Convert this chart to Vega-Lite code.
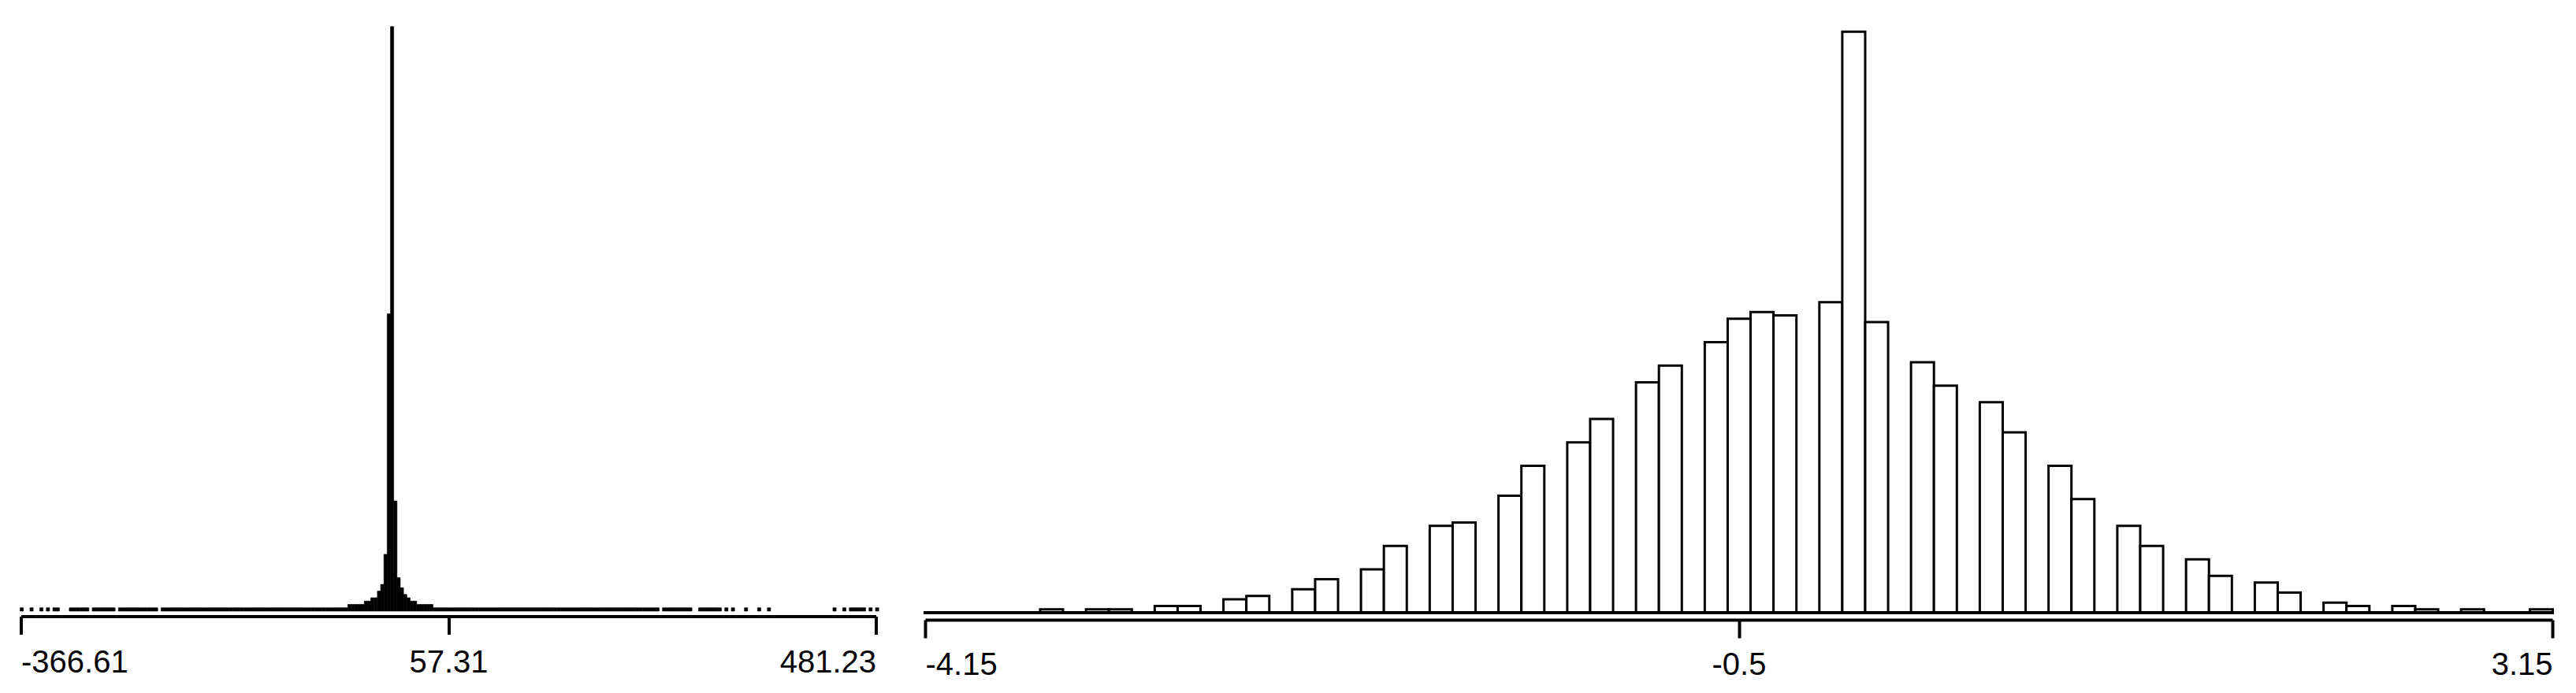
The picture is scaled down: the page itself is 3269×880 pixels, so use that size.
{
"$schema": "https://vega.github.io/schema/vega-lite/v6.json",
"background": "white",
"padding": {"left": 24.5, "top": 30, "right": 5, "bottom": 5},
"spacing": 62.5,
"bounds": "flush",
"config": {
  "view": {"stroke": null},
  "axis": {"domainColor": "black", "domainWidth": 4, "tickColor": "black", "tickWidth": 4, "tickSize": 23, "labelFont": "Liberation Sans, Arial, sans-serif", "labelFontSize": 40, "labelColor": "black", "grid": false, "title": null, "labelFlush": true, "labelOverlap": false, "labelBound": false}
},
"hconcat": [
{
  "width": 1085,
  "height": 746,
  "data": {"values": [
{"lo":-367.78,"n":1},{"lo":-358.03,"n":1},{"lo":-348.28,"n":1},{"lo":-341.78,"n":1},{"lo":-335.28,"n":1},{"lo":-332.03,"n":1},
{"lo":-319.03,"n":1},{"lo":-315.78,"n":1},{"lo":-312.53,"n":1},{"lo":-309.28,"n":1},{"lo":-306.03,"n":1},{"lo":-302.78,"n":1},
{"lo":-296.28,"n":1},{"lo":-293.03,"n":1},{"lo":-289.78,"n":1},{"lo":-286.53,"n":1},{"lo":-283.28,"n":1},{"lo":-280.03,"n":1},{"lo":-276.78,"n":1},
{"lo":-270.28,"n":1},{"lo":-267.03,"n":1},{"lo":-263.78,"n":1},{"lo":-260.53,"n":1},{"lo":-257.28,"n":1},{"lo":-254.03,"n":1},{"lo":-250.78,"n":1},{"lo":-247.53,"n":1},{"lo":-244.28,"n":1},{"lo":-241.03,"n":1},{"lo":-237.78,"n":1},{"lo":-234.53,"n":1},
{"lo":-228.03,"n":1},{"lo":-224.78,"n":1},{"lo":-221.53,"n":1},{"lo":-218.28,"n":1},{"lo":-215.03,"n":1},{"lo":-211.78,"n":1},{"lo":-208.53,"n":1},{"lo":-205.28,"n":1},{"lo":-202.03,"n":1},{"lo":-198.78,"n":1},
{"lo":-195.53,"n":1},{"lo":-192.28,"n":1},{"lo":-189.03,"n":1},{"lo":-185.78,"n":1},{"lo":-182.53,"n":1},{"lo":-179.28,"n":1},{"lo":-176.03,"n":1},{"lo":-172.78,"n":1},{"lo":-169.53,"n":1},{"lo":-166.28,"n":1},
{"lo":-163.03,"n":1},{"lo":-159.78,"n":1},{"lo":-156.53,"n":1},{"lo":-153.28,"n":1},{"lo":-150.03,"n":1},{"lo":-146.78,"n":1},{"lo":-143.53,"n":1},{"lo":-140.28,"n":1},{"lo":-137.03,"n":1},{"lo":-133.78,"n":1},
{"lo":-130.53,"n":1},{"lo":-127.28,"n":1},{"lo":-124.03,"n":1},{"lo":-120.78,"n":1},{"lo":-117.53,"n":1},{"lo":-114.28,"n":1},{"lo":-111.03,"n":1},{"lo":-107.78,"n":1},{"lo":-104.53,"n":1},{"lo":-101.28,"n":1},
{"lo":-98.03,"n":1},{"lo":-94.78,"n":1},{"lo":-91.53,"n":1},{"lo":-88.28,"n":1},{"lo":-85.03,"n":1},{"lo":-81.78,"n":1},{"lo":-78.53,"n":1},{"lo":-75.28,"n":1},{"lo":-72.03,"n":1},{"lo":-68.78,"n":1},
{"lo":-65.53,"n":1},{"lo":-62.28,"n":1},{"lo":-59.03,"n":1},{"lo":-55.78,"n":1},{"lo":-52.53,"n":1},{"lo":-49.28,"n":1},{"lo":-46.03,"n":1},
{"lo":-42.78,"n":2},{"lo":-39.53,"n":2},{"lo":-36.28,"n":2},{"lo":-33.03,"n":2},{"lo":-29.78,"n":2},
{"lo":-26.53,"n":3},{"lo":-23.28,"n":3},{"lo":-20.03,"n":4},{"lo":-16.78,"n":4},{"lo":-13.53,"n":6},{"lo":-10.28,"n":8},
{"lo":-7.03,"n":17},{"lo":-3.78,"n":89},{"lo":-0.53,"n":175},{"lo":2.72,"n":33},{"lo":5.97,"n":10},{"lo":9.22,"n":7},
{"lo":12.47,"n":5},{"lo":15.72,"n":4},{"lo":18.97,"n":3},{"lo":22.22,"n":3},
{"lo":25.47,"n":2},{"lo":28.72,"n":2},{"lo":31.97,"n":2},{"lo":35.22,"n":2},{"lo":38.47,"n":2},
{"lo":41.72,"n":1},{"lo":44.97,"n":1},{"lo":48.22,"n":1},{"lo":51.47,"n":1},{"lo":54.72,"n":1},{"lo":57.97,"n":1},{"lo":61.22,"n":1},{"lo":64.47,"n":1},{"lo":67.72,"n":1},{"lo":70.97,"n":1},
{"lo":74.22,"n":1},{"lo":77.47,"n":1},{"lo":80.72,"n":1},{"lo":83.97,"n":1},{"lo":87.22,"n":1},{"lo":90.47,"n":1},{"lo":93.72,"n":1},{"lo":96.97,"n":1},{"lo":100.22,"n":1},{"lo":103.47,"n":1},
{"lo":106.72,"n":1},{"lo":109.97,"n":1},{"lo":113.22,"n":1},{"lo":116.47,"n":1},{"lo":119.72,"n":1},{"lo":122.97,"n":1},{"lo":126.22,"n":1},{"lo":129.47,"n":1},{"lo":132.72,"n":1},{"lo":135.97,"n":1},
{"lo":139.22,"n":1},{"lo":142.47,"n":1},{"lo":145.72,"n":1},{"lo":148.97,"n":1},{"lo":152.22,"n":1},{"lo":155.47,"n":1},{"lo":158.72,"n":1},{"lo":161.97,"n":1},{"lo":165.22,"n":1},{"lo":168.47,"n":1},
{"lo":171.72,"n":1},{"lo":174.97,"n":1},{"lo":178.22,"n":1},{"lo":181.47,"n":1},{"lo":184.72,"n":1},{"lo":187.97,"n":1},{"lo":191.22,"n":1},{"lo":194.47,"n":1},{"lo":197.72,"n":1},{"lo":200.97,"n":1},
{"lo":204.22,"n":1},{"lo":207.47,"n":1},{"lo":210.72,"n":1},{"lo":213.97,"n":1},{"lo":217.22,"n":1},{"lo":220.47,"n":1},{"lo":223.72,"n":1},{"lo":226.97,"n":1},{"lo":230.22,"n":1},{"lo":233.47,"n":1},
{"lo":236.72,"n":1},{"lo":239.97,"n":1},{"lo":243.22,"n":1},{"lo":246.47,"n":1},{"lo":249.72,"n":1},{"lo":252.97,"n":1},{"lo":256.22,"n":1},{"lo":259.47,"n":1},{"lo":262.72,"n":1},
{"lo":269.22,"n":1},{"lo":272.47,"n":1},{"lo":275.72,"n":1},{"lo":278.97,"n":1},{"lo":282.22,"n":1},{"lo":285.47,"n":1},{"lo":288.72,"n":1},{"lo":291.97,"n":1},{"lo":295.22,"n":1},
{"lo":304.97,"n":1},{"lo":308.22,"n":1},{"lo":311.47,"n":1},{"lo":314.72,"n":1},{"lo":317.97,"n":1},{"lo":321.22,"n":1},{"lo":324.47,"n":1},
{"lo":330.97,"n":1},{"lo":337.47,"n":1},{"lo":350.47,"n":1},{"lo":363.47,"n":1},{"lo":373.22,"n":1},
{"lo":438.22,"n":1},{"lo":447.97,"n":1},{"lo":454.47,"n":1},{"lo":457.72,"n":1},{"lo":460.97,"n":1},{"lo":464.22,"n":1},{"lo":467.47,"n":1},{"lo":473.97,"n":1},{"lo":480.47,"n":1}
  ]},
  "mark": {"type": "bar", "color": "black", "stroke": "black", "strokeWidth": 0.6, "binSpacing": 0, "clip": false},
  "encoding": {
    "x": {"field": "lo", "type": "quantitative", "bin": {"binned": true, "step": 3.25},
          "scale": {"domain": [-366.61, 481.23], "nice": false, "zero": false},
          "axis": {"values": [-366.61, 57.31, 481.23], "offset": 6.5, "labelPadding": 15.5, "labelExpr": "'' + datum.value"}},
    "y": {"field": "n", "type": "quantitative", "scale": {"domain": [0, 175.9], "nice": false}, "axis": null}
  }
},
{
  "width": 2065,
  "height": 748,
  "data": {"values": [
{"lo":-3.6359,"n":1},{"lo":-3.4303,"n":1},{"lo":-3.3275,"n":1},{"lo":-3.1218,"n":2},{"lo":-3.019,"n":2},
{"lo":-2.8134,"n":4},{"lo":-2.7106,"n":5},{"lo":-2.5049,"n":7},{"lo":-2.4021,"n":10},{"lo":-2.1965,"n":13},{"lo":-2.0937,"n":20},
{"lo":-1.888,"n":26},{"lo":-1.7852,"n":27},{"lo":-1.5796,"n":35},{"lo":-1.4768,"n":44},{"lo":-1.2711,"n":51},{"lo":-1.1683,"n":58},
{"lo":-0.9627,"n":69},{"lo":-0.8599,"n":74},{"lo":-0.6542,"n":81},{"lo":-0.5514,"n":88},{"lo":-0.4486,"n":90},{"lo":-0.3458,"n":89},
{"lo":-0.1401,"n":93},{"lo":-0.0373,"n":174},{"lo":0.0655,"n":87},{"lo":0.2711,"n":75},{"lo":0.3739,"n":68},{"lo":0.5796,"n":63},{"lo":0.6824,"n":54},
{"lo":0.888,"n":44},{"lo":0.9908,"n":34},{"lo":1.1965,"n":26},{"lo":1.2993,"n":20},{"lo":1.5049,"n":16},{"lo":1.6077,"n":11},
{"lo":1.8134,"n":9},{"lo":1.9162,"n":6},{"lo":2.1218,"n":3},{"lo":2.2246,"n":2},{"lo":2.4303,"n":2},{"lo":2.5331,"n":1},{"lo":2.7387,"n":1},{"lo":3.0472,"n":1}
  ]},
  "layer": [
    {
      "mark": {"type": "bar", "fill": "white", "stroke": "black", "strokeWidth": 3, "binSpacing": 0},
      "encoding": {
        "x": {"field": "lo", "type": "quantitative", "bin": {"binned": true, "step": 0.10282},
              "scale": {"domain": [-4.15, 3.15], "nice": false, "zero": false},
              "axis": {"values": [-4.15, -0.5, 3.15], "offset": 9, "labelPadding": 14, "labelExpr": "'' + datum.value"}},
        "y": {"field": "n", "type": "quantitative", "scale": {"domain": [0, 176.4], "nice": false}, "axis": null}
      }
    },
    {
      "data": {"values": [{"from": -4.15, "to": 3.15, "base": 0}]},
      "mark": {"type": "rule", "color": "black", "strokeWidth": 4, "strokeCap": "square"},
      "encoding": {
        "x": {"field": "from", "type": "quantitative"},
        "x2": {"field": "to"},
        "y": {"field": "base", "type": "quantitative"}
      }
    }
  ]
}
]
}
